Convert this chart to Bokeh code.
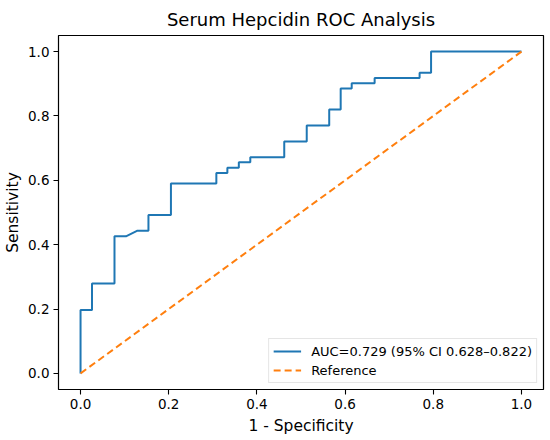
from bokeh.plotting import figure
from bokeh.models import Legend, LegendItem, FixedTicker, Range1d
from bokeh.embed import file_html
from bokeh.resources import INLINE

# ROC curve points
fpr = [0.0, 0.0, 0.026, 0.026, 0.077, 0.077, 0.103, 0.128, 0.154, 0.154,
       0.205, 0.205, 0.308, 0.308, 0.333, 0.333, 0.359, 0.359, 0.385, 0.385,
       0.462, 0.462, 0.513, 0.513, 0.564, 0.564, 0.590, 0.590, 0.615, 0.615,
       0.667, 0.667, 0.769, 0.769, 0.795, 0.795, 1.0]
tpr = [0.0, 0.197, 0.197, 0.279, 0.279, 0.426, 0.426, 0.443, 0.443, 0.492,
       0.492, 0.590, 0.590, 0.623, 0.623, 0.639, 0.639, 0.656, 0.656, 0.672,
       0.672, 0.721, 0.721, 0.770, 0.770, 0.820, 0.820, 0.885, 0.885, 0.902,
       0.902, 0.918, 0.918, 0.934, 0.934, 1.0, 1.0]
ref_x = [0.0, 1.0]
ref_y = [0.0, 1.0]
ticks = [0.0, 0.2, 0.4, 0.6, 0.8, 1.0]
tick_labels = {0.0: "0.0", 0.2: "0.2", 0.4: "0.4", 0.6: "0.6", 0.8: "0.8", 1.0: "1.0"}
auc_label = "AUC=0.729 (95% CI 0.628\u20130.822)"
ref_label = "Reference"
title = "Serum Hepcidin ROC Analysis"

FONT = "DejaVu Sans"

p = figure(width=550, height=440, output_backend="svg", toolbar_location=None,
           x_range=Range1d(-0.05, 1.05), y_range=Range1d(-0.05, 1.05),
           min_border_left=58, min_border_right=7, min_border_top=35,
           min_border_bottom=51)
p.title.text = title
p.title.align = "center"
p.title.text_font = FONT
p.title.text_font_size = "18px"
p.title.text_font_style = "normal"
p.title.text_color = "#000000"
p.title.standoff = 12

p.xgrid.visible = False
p.ygrid.visible = False
p.outline_line_color = "#000000"
p.outline_line_width = 1.2
p.background_fill_color = "white"
p.border_fill_color = "white"

for ax in (p.xaxis[0], p.yaxis[0]):
    ax.ticker = FixedTicker(ticks=ticks)
    ax.major_label_overrides = tick_labels
    ax.minor_tick_line_color = None
    ax.axis_line_color = None
    ax.major_tick_line_color = "#000000"
    ax.major_tick_line_width = 1.1
    ax.major_tick_in = 0
    ax.major_tick_out = 5
    ax.major_label_text_font = FONT
    ax.major_label_text_font_size = "13.5px"
    ax.major_label_text_color = "#000000"
    ax.axis_label_text_font = FONT
    ax.axis_label_text_font_size = "15.5px"
    ax.axis_label_text_font_style = "normal"
    ax.axis_label_text_color = "#000000"

p.xaxis.major_label_standoff = 4
p.xaxis.axis_label_standoff = 5
p.yaxis.major_label_standoff = 4
p.yaxis.axis_label_standoff = 3
p.xaxis.axis_label = "1 - Specificity"
p.yaxis.axis_label = "Sensitivity"
p.yaxis.major_label_orientation = "horizontal"

r1 = p.line(fpr, tpr, line_color="#1f77b4", line_width=2)
r2 = p.line(ref_x, ref_y, line_color="#ff7f0e", line_width=2, line_dash="7 4")

legend = Legend(items=[LegendItem(label=auc_label, renderers=[r1]),
                       LegendItem(label=ref_label, renderers=[r2])],
                location="bottom_right")
legend.label_text_font = FONT
legend.label_text_font_size = "13px"
legend.label_text_color = "#000000"
legend.border_line_color = "#cccccc"
legend.border_line_width = 1
legend.background_fill_alpha = 0.8
legend.glyph_width = 28
legend.glyph_height = 16
legend.label_height = 16
legend.spacing = 3
legend.padding = 4
legend.margin = 6
legend.label_standoff = 10
p.add_layout(legend)

open("out.html", "w").write(file_html(p, INLINE))
